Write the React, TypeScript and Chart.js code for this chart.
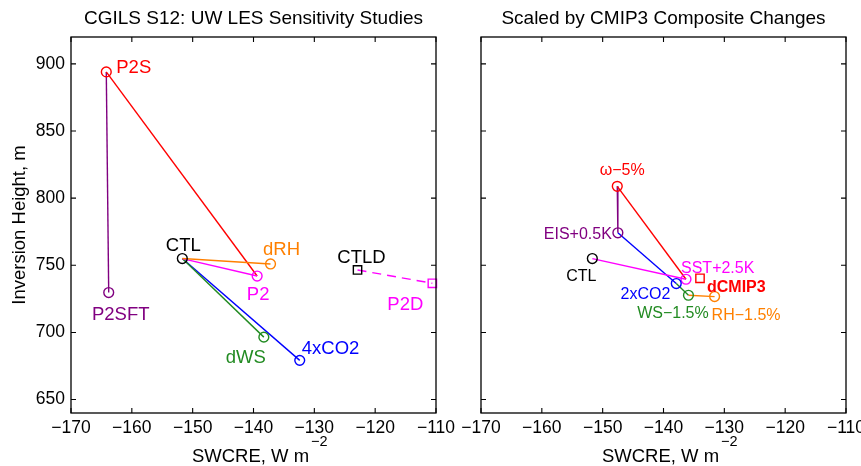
import React, { useEffect, useRef } from 'react';
import { Chart, registerables } from 'chart.js';
Chart.register(...registerables);

const FONT = '"Liberation Sans", Arial, Helvetica, sans-serif';
const W = 861;
const H = 466;

// Axes
const xMin = -170;
const xMax = -110;
const yMin = 640;
const yMax = 920;
const xTickValues = [-170, -160, -150, -140, -130, -120, -110];
const yTickValues = [650, 700, 750, 800, 850, 900];
const xTitle = 'SWCRE, W m';
const xTitleSup = '\u22122';
const yTitle = 'Inversion Height, m';

// Left panel data
const leftTitle = 'CGILS S12: UW LES Sensitivity Studies';
const leftNames = ['CTL', 'P2', 'P2S', 'P2SFT', 'dRH', 'dWS', '4xCO2', 'CTLD', 'P2D'];
const leftSWCRE = [-151.7, -139.4, -164.2, -163.8, -137.2, -138.3, -132.4, -122.9, -110.6];
const leftZi = [755, 742, 894, 729.7, 751, 696.5, 679.2, 746.5, 736.6];
const leftColors = ['#000000', '#ff00ff', '#ff0000', '#800080', '#ff8000', '#228b22', '#0000ff', '#000000', '#ff00ff'];
const leftMarkers = ['circle', 'circle', 'circle', 'circle', 'circle', 'circle', 'circle', 'rect', 'rect'];
const leftSegFrom = ['CTL', 'CTL', 'CTL', 'CTL', 'P2S', 'P2S', 'CTLD'];
const leftSegTo = ['dRH', 'P2', 'dWS', '4xCO2', 'P2', 'P2SFT', 'P2D'];
const leftSegColor = ['#ff8000', '#ff00ff', '#228b22', '#0000ff', '#ff0000', '#800080', '#ff00ff'];
const leftSegDashed = [false, false, false, false, false, false, true];

// Right panel data
const rightTitle = 'Scaled by CMIP3 Composite Changes';
const rightNames = ['CTL', 'SST+2.5K', '\u03c9\u22125%', 'EIS+0.5K', '2xCO2', 'WS\u22121.5%', 'RH\u22121.5%', 'dCMIP3'];
const rightSWCRE = [-151.7, -136.3, -147.6, -147.5, -137.9, -135.9, -131.6, -134.0];
const rightZi = [755, 739.6, 808.8, 774.2, 736.4, 727.7, 726.7, 740.3];
const rightColors = ['#000000', '#ff00ff', '#ff0000', '#800080', '#0000ff', '#228b22', '#ff8000', '#ff0000'];
const rightMarkers = ['circle', 'circle', 'circle', 'circle', 'circle', 'circle', 'circle', 'rect'];
const rightSegFrom = ['CTL', '\u03c9\u22125%', '\u03c9\u22125%', 'EIS+0.5K', '2xCO2', 'WS\u22121.5%'];
const rightSegTo = ['SST+2.5K', 'SST+2.5K', 'EIS+0.5K', '2xCO2', 'WS\u22121.5%', 'RH\u22121.5%'];
const rightSegColor = ['#ff00ff', '#ff0000', '#800080', '#0000ff', '#228b22', '#ff8000'];
const rightSegDashed = [false, false, false, false, false, false];

type Label = { name: string; dx: number; dy: number; align: CanvasTextAlign; size: number; bold?: boolean };

const leftLabels: Label[] = [
  { name: 'P2S', dx: 10, dy: -5.5, align: 'left', size: 18.5 },
  { name: 'CTL', dx: 1, dy: -14, align: 'center', size: 18.5 },
  { name: 'dRH', dx: 11, dy: -16, align: 'center', size: 18.5 },
  { name: 'P2', dx: 1, dy: 17, align: 'center', size: 18.5 },
  { name: 'P2SFT', dx: 12, dy: 21, align: 'center', size: 18.5 },
  { name: 'CTLD', dx: 4, dy: -14, align: 'center', size: 18.5 },
  { name: 'P2D', dx: -27, dy: 20, align: 'center', size: 18.5 },
  { name: 'dWS', dx: -18, dy: 19, align: 'center', size: 18.5 },
  { name: '4xCO2', dx: 2, dy: -13, align: 'left', size: 18.5 },
];

const rightLabels: Label[] = [
  { name: '\u03c9\u22125%', dx: 5, dy: -17, align: 'center', size: 16 },
  { name: 'EIS+0.5K', dx: -6, dy: 0, align: 'right', size: 16 },
  { name: 'CTL', dx: -11, dy: 17, align: 'center', size: 16 },
  { name: 'SST+2.5K', dx: -5, dy: -12, align: 'left', size: 16 },
  { name: 'dCMIP3', dx: 7, dy: 8, align: 'left', size: 16, bold: true },
  { name: '2xCO2', dx: -6, dy: 10, align: 'right', size: 16 },
  { name: 'WS\u22121.5%', dx: -15.5, dy: 17, align: 'center', size: 16 },
  { name: 'RH\u22121.5%', dx: -3, dy: 18, align: 'left', size: 16 },
];

type Panel = {
  title: string;
  names: string[];
  xs: number[];
  ys: number[];
  colors: string[];
  markers: string[];
  segFrom: string[];
  segTo: string[];
  segColor: string[];
  segDashed: boolean[];
  labels: Label[];
  panelLeft: number;
  area: { left: number; right: number; top: number; bottom: number };
  showYLabels: boolean;
  showYTitle: boolean;
};

const leftPanel: Panel = {
  title: leftTitle,
  names: leftNames,
  xs: leftSWCRE,
  ys: leftZi,
  colors: leftColors,
  markers: leftMarkers,
  segFrom: leftSegFrom,
  segTo: leftSegTo,
  segColor: leftSegColor,
  segDashed: leftSegDashed,
  labels: leftLabels,
  panelLeft: 0,
  area: { left: 71, right: 436, top: 37, bottom: 413 },
  showYLabels: true,
  showYTitle: true,
};

const rightPanel: Panel = {
  title: rightTitle,
  names: rightNames,
  xs: rightSWCRE,
  ys: rightZi,
  colors: rightColors,
  markers: rightMarkers,
  segFrom: rightSegFrom,
  segTo: rightSegTo,
  segColor: rightSegColor,
  segDashed: rightSegDashed,
  labels: rightLabels,
  panelLeft: 440,
  area: { left: 481, right: 846, top: 37, bottom: 413 },
  showYLabels: false,
  showYTitle: false,
};

const fmt = (v: number) => (v < 0 ? '\u2212' + Math.abs(v) : String(v));

function makeDecor(p: Panel) {
  return {
    id: 'panelDecor',
    afterDraw(chart: any) {
      const { ctx, chartArea: a, scales } = chart;
      const xs = scales.x;
      const ys = scales.y;
      ctx.save();
      // frame
      ctx.strokeStyle = '#000';
      ctx.lineWidth = 1.3;
      ctx.strokeRect(a.left, a.top, a.right - a.left, a.bottom - a.top);
      // inward ticks
      const tl = 5;
      ctx.lineWidth = 1.1;
      ctx.beginPath();
      xTickValues.forEach((v) => {
        const px = xs.getPixelForValue(v);
        ctx.moveTo(px, a.bottom);
        ctx.lineTo(px, a.bottom - tl);
        ctx.moveTo(px, a.top);
        ctx.lineTo(px, a.top + tl);
      });
      yTickValues.forEach((v) => {
        const py = ys.getPixelForValue(v);
        ctx.moveTo(a.left, py);
        ctx.lineTo(a.left + tl, py);
        ctx.moveTo(a.right, py);
        ctx.lineTo(a.right - tl, py);
      });
      ctx.stroke();

      const cx = (a.left + a.right) / 2;
      ctx.fillStyle = '#000';
      // title
      ctx.font = `19px ${FONT}`;
      ctx.textAlign = 'center';
      ctx.textBaseline = 'alphabetic';
      ctx.fillText(p.title, cx, 24);

      // x title with superscript
      ctx.font = `18.5px ${FONT}`;
      const wm = ctx.measureText(xTitle).width;
      const mainLeft = cx - 3 - wm / 2;
      ctx.textAlign = 'left';
      ctx.fillText(xTitle, mainLeft, 462);
      ctx.font = `14.5px ${FONT}`;
      ctx.fillText(xTitleSup, mainLeft + wm + 2, 446);

      // y title
      if (p.showYTitle) {
        ctx.save();
        ctx.translate(25, (a.top + a.bottom) / 2);
        ctx.rotate(-Math.PI / 2);
        ctx.font = `18.5px ${FONT}`;
        ctx.textAlign = 'center';
        ctx.fillText(yTitle, 0, 0);
        ctx.restore();
      }

      // point labels
      p.labels.forEach((l) => {
        const i = p.names.indexOf(l.name);
        if (i < 0) return;
        const px = xs.getPixelForValue(p.xs[i]) + l.dx;
        const py = ys.getPixelForValue(p.ys[i]) + l.dy + 0.36 * l.size;
        ctx.font = `${l.bold ? 'bold ' : ''}${l.size}px ${FONT}`;
        ctx.textAlign = l.align;
        ctx.fillStyle = p.colors[i];
        ctx.fillText(l.name, px, py);
      });
      ctx.restore();
    },
  };
}

function makeConfig(p: Panel): any {
  const idx = (n: string) => p.names.indexOf(n);
  const pt = (n: string) => ({ x: p.xs[idx(n)], y: p.ys[idx(n)] });
  const datasets: any[] = [
    {
      label: 'markers',
      data: p.names.map((_, i) => ({ x: p.xs[i], y: p.ys[i] })),
      showLine: false,
      pointStyle: p.markers,
      pointRadius: p.markers.map((m) => (m === 'rect' ? 5.9 : 4.9)),
      pointBorderColor: p.colors,
      pointBackgroundColor: 'rgba(0,0,0,0)',
      pointBorderWidth: 1.4,
      clip: false,
    },
    ...p.segFrom.map((f, k) => ({
      label: f + '-' + p.segTo[k],
      data: [pt(f), pt(p.segTo[k])],
      showLine: true,
      borderColor: p.segColor[k],
      borderWidth: 1.4,
      borderDash: p.segDashed[k] ? [9, 6] : [],
      pointRadius: 0,
      fill: false,
      clip: false,
    })),
  ];
  const a = p.area;
  return {
    type: 'scatter',
    data: { datasets },
    options: {
      responsive: false,
      maintainAspectRatio: false,
      animation: false,
      events: [],
      layout: {
        padding: { left: p.panelLeft, top: a.top, right: W - a.right, bottom: 0 },
      },
      plugins: { legend: { display: false }, tooltip: { enabled: false }, title: { display: false } },
      scales: {
        x: {
          type: 'linear',
          min: xMin,
          max: xMax,
          afterBuildTicks: (s: any) => {
            s.ticks = xTickValues.map((v) => ({ value: v }));
          },
          ticks: {
            font: { family: FONT, size: 17.5 },
            color: '#000',
            padding: 5,
            maxRotation: 0,
            autoSkip: false,
            callback: (v: any) => fmt(Number(v)),
          },
          grid: { display: false, drawTicks: false },
          border: { display: false },
          afterFit: (s: any) => {
            s.height = H - a.bottom;
            s.paddingLeft = 0;
            s.paddingRight = 0;
          },
        },
        y: {
          type: 'linear',
          min: yMin,
          max: yMax,
          afterBuildTicks: (s: any) => {
            s.ticks = yTickValues.map((v) => ({ value: v }));
          },
          ticks: {
            display: p.showYLabels,
            font: { family: FONT, size: 17.5 },
            color: '#000',
            padding: 6,
            callback: (v: any) => fmt(Number(v)),
          },
          grid: { display: false, drawTicks: false },
          border: { display: false },
          afterFit: (s: any) => {
            s.width = a.left - p.panelLeft;
            s.paddingTop = 0;
            s.paddingBottom = 0;
          },
        },
      },
    },
    plugins: [makeDecor(p)],
  };
}

function PanelChart({ panel }: { panel: Panel }) {
  const ref = useRef<HTMLCanvasElement>(null);
  useEffect(() => {
    const chart = new Chart(ref.current as HTMLCanvasElement, makeConfig(panel));
    return () => chart.destroy();
  }, [panel]);
  return (
    <canvas
      ref={ref}
      width={W}
      height={H}
      style={{ position: 'absolute', left: 0, top: 0, width: W, height: H }}
    />
  );
}

export default function App() {
  return (
    <div style={{ position: 'fixed', left: 0, top: 0, width: W, height: H, background: '#fff' }}>
      <PanelChart panel={leftPanel} />
      <PanelChart panel={rightPanel} />
    </div>
  );
}
